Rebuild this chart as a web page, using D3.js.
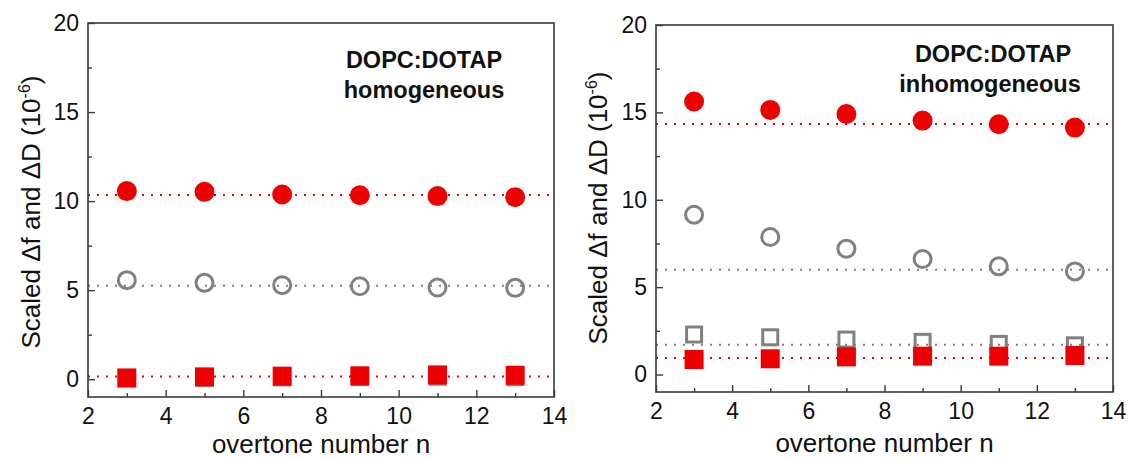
<!DOCTYPE html>
<html>
<head>
<meta charset="utf-8">
<script src="https://cdn.jsdelivr.net/npm/d3@7/dist/d3.min.js"></script>
<style>
  html, body { margin: 0; padding: 0; background: #fff; }
  svg { display: block; font-family: "Liberation Sans", Arial, sans-serif; }
</style>
</head>
<body>
<svg id="chart" width="1129" height="460"></svg>
<script>
// Overtone numbers shared by both panels
const overtones = [3, 5, 7, 9, 11, 13];

// Homogeneous DOPC:DOTAP bilayer
const homoRedCircles  = [10.56, 10.52, 10.37, 10.33, 10.28, 10.22];
const homoGrayCircles = [5.56, 5.41, 5.28, 5.22, 5.15, 5.13];
const homoGraySquares = [0.05, 0.08, 0.1, 0.12, 0.14, 0.12];
const homoRedSquares  = [0.07, 0.13, 0.17, 0.19, 0.24, 0.22];
const homoRefLines    = [10.34, 5.24, 0.15];

// Inhomogeneous DOPC:DOTAP bilayer
const inhomoRedCircles  = [15.62, 15.14, 14.91, 14.53, 14.32, 14.13];
const inhomoGrayCircles = [9.14, 7.87, 7.2, 6.61, 6.19, 5.9];
const inhomoGraySquares = [2.29, 2.13, 2.0, 1.87, 1.75, 1.67];
const inhomoRedSquares  = [0.86, 0.9, 1.01, 1.05, 1.05, 1.09];
const inhomoRefLines    = [14.34, 6.0, 1.71, 0.95];

// Axis ticks and labels
const xTicks = [2, 4, 6, 8, 10, 12, 14];
const xMinorTicks = [3, 5, 7, 9, 11, 13];
const yTicks = [0, 5, 10, 15, 20];
const yMinorTicks = [2.5, 7.5, 12.5, 17.5];
const xTitle = "overtone number n";
const annotationTop = "DOPC:DOTAP";
const homoLabel = "homogeneous";
const inhomoLabel = "inhomogeneous";

const RED = "#ee0000";
const GRAY = "#808080";
const FRAME = "#3a3a3a";

const svg = d3.select("#chart");

function drawPanel(cfg) {
  const { left, right, top, bottom } = cfg.frame;
  const x = d3.scaleLinear().domain([2, 14]).range([left, right]);
  const y = d3.scaleLinear().domain([-1, 20]).range([bottom, top]);
  const g = svg.append("g");

  // dotted reference lines spanning the full plot width
  cfg.refLines.forEach((v, i) => {
    g.append("line")
      .attr("x1", x(2)).attr("x2", x(14))
      .attr("y1", y(v)).attr("y2", y(v))
      .attr("stroke", cfg.refColors[i])
      .attr("stroke-width", 2)
      .attr("stroke-dasharray", "2,7");
  });

  const pts = arr => overtones.map((n, i) => ({ n, v: arr[i] }));

  // open gray squares
  const sqOpen = 15;
  g.selectAll(".gsq").data(pts(cfg.graySquares)).join("rect")
    .attr("x", d => x(d.n) - sqOpen / 2)
    .attr("y", d => y(d.v) - sqOpen / 2)
    .attr("width", sqOpen).attr("height", sqOpen)
    .attr("fill", "none").attr("stroke", GRAY).attr("stroke-width", 3);

  // filled red squares
  const sq = 19;
  g.selectAll(".rsq").data(pts(cfg.redSquares)).join("rect")
    .attr("x", d => x(d.n) - sq / 2)
    .attr("y", d => y(d.v) - sq / 2)
    .attr("width", sq).attr("height", sq)
    .attr("fill", RED);

  // open gray circles
  g.selectAll(".gc").data(pts(cfg.grayCircles)).join("circle")
    .attr("cx", d => x(d.n)).attr("cy", d => y(d.v))
    .attr("r", 8.5)
    .attr("fill", "none").attr("stroke", GRAY).attr("stroke-width", 3);

  // filled red circles
  g.selectAll(".rc").data(pts(cfg.redCircles)).join("circle")
    .attr("cx", d => x(d.n)).attr("cy", d => y(d.v))
    .attr("r", 10)
    .attr("fill", RED);

  // frame
  g.append("rect")
    .attr("x", left).attr("y", top)
    .attr("width", right - left).attr("height", bottom - top)
    .attr("fill", "none").attr("stroke", FRAME).attr("stroke-width", 1.6);

  // bottom axis: inward ticks
  const xAxis = d3.axisBottom(x).tickValues(xTicks).tickSizeInner(-7).tickSizeOuter(0).tickPadding(11)
    .tickFormat(d3.format("d"));
  const xa = g.append("g").attr("transform", `translate(0,${bottom})`).call(xAxis);
  xa.select(".domain").remove();
  xa.selectAll(".tick line").attr("stroke", FRAME).attr("stroke-width", 1.4);
  xa.selectAll(".tick text").attr("font-size", 23).attr("fill", "#111")
    .attr("font-family", "Liberation Sans, Arial, sans-serif");
  const xm = g.append("g").attr("transform", `translate(0,${bottom})`)
    .call(d3.axisBottom(x).tickValues(xMinorTicks).tickSizeInner(-4).tickSizeOuter(0).tickFormat(""));
  xm.select(".domain").remove();
  xm.selectAll(".tick line").attr("stroke", FRAME).attr("stroke-width", 1.4);

  // left axis: inward ticks
  const yAxis = d3.axisLeft(y).tickValues(yTicks).tickSizeInner(-7).tickSizeOuter(0).tickPadding(9)
    .tickFormat(d3.format("d"));
  const ya = g.append("g").attr("transform", `translate(${left},0)`).call(yAxis);
  ya.select(".domain").remove();
  ya.selectAll(".tick line").attr("stroke", FRAME).attr("stroke-width", 1.4);
  ya.selectAll(".tick text").attr("font-size", 23).attr("fill", "#111")
    .attr("font-family", "Liberation Sans, Arial, sans-serif");
  const ym = g.append("g").attr("transform", `translate(${left},0)`)
    .call(d3.axisLeft(y).tickValues(yMinorTicks).tickSizeInner(-4).tickSizeOuter(0).tickFormat(""));
  ym.select(".domain").remove();
  ym.selectAll(".tick line").attr("stroke", FRAME).attr("stroke-width", 1.4);

  // axis titles
  g.append("text")
    .attr("x", (left + right) / 2).attr("y", bottom + cfg.xTitleDy)
    .attr("text-anchor", "middle").attr("font-size", 26).attr("fill", "#111")
    .text(xTitle);

  const yt = g.append("text")
    .attr("transform", `translate(${cfg.yTitleX},${cfg.yTitleY}) rotate(-90)`)
    .attr("text-anchor", "middle").attr("font-size", 26).attr("fill", "#111");
  yt.append("tspan").text("Scaled \u0394f and \u0394D (10");
  yt.append("tspan").attr("font-size", 16).attr("dy", -10).text("-6");
  yt.append("tspan").attr("dy", 10).text(")");

  // annotation
  g.append("text")
    .attr("x", cfg.annot.x).attr("y", cfg.annot.y)
    .attr("text-anchor", "middle").attr("font-size", 23.5).attr("font-weight", "bold").attr("fill", "#111")
    .text(annotationTop);
  g.append("text")
    .attr("x", cfg.annot.x2).attr("y", cfg.annot.y + 30)
    .attr("text-anchor", "middle").attr("font-size", 23.5).attr("font-weight", "bold").attr("fill", "#111")
    .text(cfg.label);
}

drawPanel({
  frame: { left: 88, right: 554, top: 23, bottom: 397 },
  redCircles: homoRedCircles,
  grayCircles: homoGrayCircles,
  graySquares: homoGraySquares,
  redSquares: homoRedSquares,
  refLines: homoRefLines,
  refColors: [RED, GRAY, RED],
  yTitleX: 40,
  yTitleY: 212,
  xTitleDy: 56,
  annot: { x: 424, x2: 424, y: 68 },
  label: homoLabel
});

drawPanel({
  frame: { left: 656, right: 1113, top: 25, bottom: 392 },
  redCircles: inhomoRedCircles,
  grayCircles: inhomoGrayCircles,
  graySquares: inhomoGraySquares,
  redSquares: inhomoRedSquares,
  refLines: inhomoRefLines,
  refColors: [RED, GRAY, GRAY, RED],
  yTitleX: 607,
  yTitleY: 208,
  xTitleDy: 60,
  annot: { x: 993, x2: 990, y: 62 },
  label: inhomoLabel
});
</script>
</body>
</html>
